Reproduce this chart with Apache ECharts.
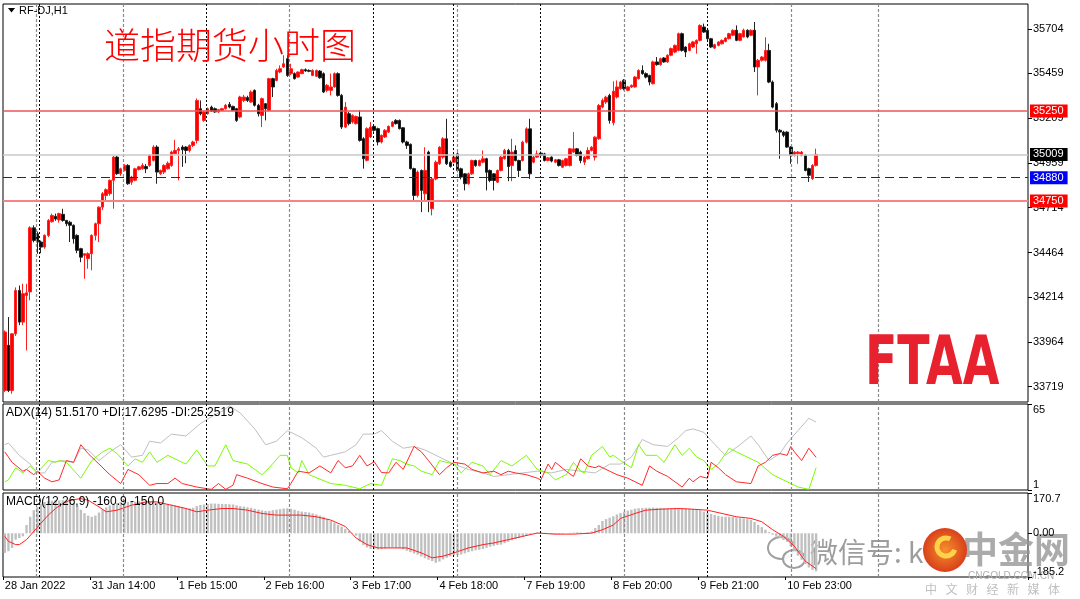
<!DOCTYPE html>
<html><head><meta charset="utf-8">
<script src="https://cdn.jsdelivr.net/npm/echarts@6/dist/echarts.min.js"></script>
<style>html,body{margin:0;padding:0;background:#fff}#c{width:1080px;height:599px}</style>
</head><body><div id="c"></div>
<script>
// ---------- DATA ----------
// H1 bars: [open, close, low, high]
const priceBars = [
[33697,34022,33688,34031],[33948,33697,33688,34105],[33697,34012,33679,34015],[34012,34253,34000,34270],
[34253,34077,34060,34280],[34077,34235,34060,34290],[34225,34240,33920,34290],[34245,34601,34198,34610],
[34601,34531,34520,34615],[34568,34522,34457,34580],[34522,34494,34460,34530],[34494,34559,34485,34565],
[34559,34642,34550,34650],[34635,34670,34630,34680],[34665,34650,34640,34680],[34645,34680,34630,34685],
[34676,34642,34635,34707],[34642,34624,34610,34645],[34632,34615,34522,34640],[34615,34540,34513,34620],
[34559,34476,34460,34565],[34485,34438,34410,34490],[34448,34457,34318,34460],[34430,34457,34374,34465],
[34457,34559,34365,34565],[34559,34624,34531,34630],[34624,34716,34522,34720],[34716,34791,34700,34800],
[34780,34813,34745,34820],[34791,34865,34780,34870],[34865,34994,34707,35000],[34994,34902,34895,35000],
[34902,34929,34890,34935],[34920,34948,34915,34955],[34948,34846,34840,34955],[34855,34883,34840,34890],
[34865,34929,34860,34935],[34925,34940,34920,34945],[34929,34948,34925,34960],[34942,34929,34905,34955],
[34948,35003,34940,35010],[34976,35050,34970,35060],[35050,34911,34846,35060],[34902,34920,34895,34925],
[34911,34948,34900,34955],[34929,34960,34925,34970],[34948,35022,34940,35030],[35013,35031,35010,35090],
[35031,35040,34865,35050],[35050,35035,34940,35060],[35050,35031,34960,35055],[35031,35059,35020,35065],
[35059,35078,35050,35085],[35087,35309,35070,35320],[35263,35235,35226,35309],[35198,35245,35190,35250],
[35235,35263,35230,35270],[35272,35250,35245,35280],[35263,35245,35240,35270],[35245,35258,35240,35262],
[35254,35263,35250,35268],[35263,35282,35258,35290],[35287,35272,35265,35300],[35276,35254,35250,35280],
[35263,35198,35190,35268],[35217,35328,35210,35335],[35309,35328,35300,35340],[35325,35309,35300,35335],
[35300,35356,35295,35365],[35365,35282,35275,35370],[35282,35235,35220,35290],[35226,35319,35161,35325],
[35291,35263,35198,35295],[35254,35430,35250,35435],[35430,35384,35328,35435],[35420,35476,35415,35485],
[35467,35485,35460,35504],[35495,35513,35490,35560],[35541,35448,35440,35560],[35458,35485,35450,35513],
[35458,35430,35425,35465],[35439,35467,35435,35470],[35458,35480,35455,35485],[35480,35473,35468,35487],
[35476,35471,35466,35482],[35448,35476,35444,35482],[35443,35476,35440,35480],[35472,35435,35430,35478],
[35458,35356,35350,35465],[35365,35393,35355,35400],[35365,35384,35337,35458],[35384,35458,35380,35465],
[35458,35337,35330,35465],[35337,35161,35150,35345],[35161,35272,35155,35300],[35235,35180,35170,35245],
[35189,35226,35180,35232],[35180,35220,35175,35225],[35217,35087,35080,35254],[35096,34985,34930,35105],
[34976,35152,34970,35160],[35106,35161,35100,35189],[35165,35143,35135,35175],[35152,35078,35059,35158],
[35078,35115,35070,35120],[35106,35143,35100,35150],[35133,35165,35128,35170],[35165,35189,35160,35195],
[35198,35180,35175,35205],[35198,35152,35148,35203],[35157,35078,35070,35160],[35078,35059,35040,35085],
[35065,34930,34925,35070],[34930,34781,34753,34935],[34781,34911,34770,34920],[34920,34809,34688,34925],
[34790,34920,34744,35049],[35022,34753,34688,35030],[34707,34873,34670,34880],[34873,34966,34865,34975],
[34957,35049,34950,35055],[34994,35096,34985,35105],[35096,34957,34950,35207],[34966,34942,34935,34975],
[34966,34994,34960,35012],[35012,34920,34910,35020],[34929,34883,34870,34935],[34901,34846,34809,34905],
[34846,34901,34840,34908],[34901,34975,34895,34980],[34975,34947,34940,34980],[34947,34975,34942,34980],
[34966,34985,34960,35031],[34985,34910,34809,34990],[34920,34864,34855,34925],[34901,34864,34809,34905],
[34855,34920,34850,34925],[34920,34994,34915,35000],[34985,35031,34980,35040],[35031,34942,34860,35040],
[34947,35022,34860,35096],[35031,34975,34970,35059],[34975,34920,34883,34980],[34975,35077,34970,35085],
[35077,35151,35070,35160],[35151,34901,34873,35207],[34966,34994,34960,35000],[34994,35012,34990,35031],
[35016,35003,34998,35025],[35012,34975,34970,35018],[34975,34990,34970,34995],[34994,34972,34965,34998],
[34966,34979,34960,34984],[34979,34947,34942,34984],[34938,34975,34933,34980],[34947,34985,34942,34990],
[34947,35040,34942,35045],[35022,35040,35018,35133],[35040,35003,34998,35045],[35022,34975,34960,35030],
[34966,34994,34950,35000],[34985,35031,34980,35049],[35031,35049,35025,35055],[34994,35105,34975,35110],
[35096,35281,35090,35290],[35272,35309,35265,35320],[35300,35327,35290,35335],[35337,35198,35180,35346],
[35185,35360,35170,35415],[35328,35384,35320,35420],[35374,35411,35368,35418],[35421,35374,35365,35428],
[35365,35384,35360,35390],[35384,35393,35378,35398],[35384,35439,35380,35445],[35430,35476,35425,35482],
[35476,35458,35452,35504],[35458,35439,35432,35465],[35448,35411,35393,35452],[35402,35523,35398,35530],
[35523,35508,35502,35550],[35508,35541,35502,35547],[35545,35523,35518,35550],[35523,35560,35518,35566],
[35560,35597,35555,35603],[35578,35615,35572,35620],[35587,35680,35582,35686],[35680,35587,35580,35686],
[35606,35578,35550,35610],[35587,35624,35582,35630],[35606,35634,35600,35640],[35624,35643,35569,35648],
[35643,35726,35637,35732],[35717,35689,35684,35736],[35699,35652,35645,35704],[35652,35606,35600,35657],
[35600,35619,35595,35624],[35615,35634,35610,35638],[35624,35643,35620,35648],[35637,35656,35632,35660],
[35652,35680,35648,35685],[35671,35699,35666,35704],[35699,35643,35638,35726],[35643,35680,35638,35685],
[35662,35699,35658,35708],[35699,35662,35655,35704],[35671,35699,35666,35704],[35699,35495,35467,35745],
[35495,35532,35337,35540],[35532,35550,35525,35556],[35532,35587,35525,35660],[35587,35411,35405,35624],
[35411,35272,35265,35420],[35291,35143,35130,35300],[35143,35133,34985,35150],[35133,35115,35105,35140],
[35133,35050,35045,35138],[35050,35004,34957,35055],[35004,35022,34998,35028],[35013,35022,34957,35028],
[35004,35022,34998,35028],[35004,34920,34915,35010],[34930,34893,34856,34935],[34874,34948,34868,34955],
[34948,35009,34942,35041]
];
const emptyRightBars = 58;
const xTickLabels = ['28 Jan 2022','31 Jan 14:00','1 Feb 15:00','2 Feb 16:00','3 Feb 17:00','4 Feb 18:00','7 Feb 19:00','8 Feb 20:00','9 Feb 21:00','10 Feb 23:00'];
const xTickStep = 24;
const priceTicks = [35704,35459,35209,34959,34714,34464,34214,33964,33719];
const priceMin = 33633, priceMax = 35845;
const levelValues = [35250, 35009, 34880, 34750];
const sepBlack = [9.4, 55.5, 101.7, 123.7, 147.8, 193.9];
const sepGrey = [8.6, 32.6, 78.5, 124.8, 171.0, 217.1, 241.1];

// ADX(14): [bar, value]
const adxLine = [[0,34.7],[1,36.0],[4,26.8],[7,20.3],[9,13.7],[11,13.7],[13,21.6],[16,22.9],[19,21.6],[21,32.1],[23,30.8],[26,22.9],[29,29.4],[32,34.7],[35,25.5],[38,26.8],[40,37.3],[43,36.0],[46,42.6],[50,41.2],[54,50.4],[58,57.0],[60,59.6],[62,63.6],[65,58.3],[69,46.5],[72,34.7],[75,37.3],[78,45.2],[82,39.9],[86,32.1],[88,25.5],[90,26.8],[94,29.4],[97,34.7],[99,42.6],[102,42.6],[104,45.2],[107,37.3],[110,32.1],[113,33.4],[116,30.8],[120,25.5],[124,20.3],[128,16.3],[132,13.7],[135,11.1],[139,12.4],[143,13.7],[147,15.0],[151,13.7],[155,16.3],[159,15.0],[163,13.7],[167,20.3],[170,20.3],[173,25.5],[176,38.6],[179,34.7],[183,33.4],[186,39.9],[188,45.2],[190,46.5],[193,43.9],[197,32.1],[199,26.8],[203,34.7],[206,41.2],[208,34.7],[211,22.9],[214,28.1],[216,36.0],[219,45.2],[222,54.4],[224,51.5]];
const plusDI = [[0,7.1],[1,8.5],[3,17.6],[5,13.7],[7,18.9],[8,16.3],[9,13.7],[12,22.9],[14,21.6],[15,22.9],[17,21.6],[21,9.8],[24,22.9],[27,29.4],[29,32.1],[31,28.1],[34,18.9],[36,24.2],[38,21.6],[40,29.4],[42,21.6],[45,26.8],[48,22.9],[50,20.3],[53,30.8],[56,18.9],[58,18.9],[61,34.7],[63,22.9],[67,20.3],[71,12.4],[73,17.6],[76,26.8],[78,26.8],[79,17.6],[81,13.7],[82,22.9],[84,12.4],[90,5.8],[94,4.5],[98,1.9],[101,5.8],[104,4.5],[107,24.2],[109,22.9],[111,20.3],[113,18.9],[115,15.0],[118,12.4],[120,22.9],[122,21.6],[124,20.3],[126,13.7],[129,21.6],[132,18.9],[134,12.4],[137,22.9],[140,18.9],[144,26.8],[147,16.3],[150,13.7],[152,8.5],[155,12.4],[157,21.6],[159,15.0],[160,13.7],[162,26.8],[165,33.4],[167,25.5],[168,26.8],[170,22.9],[173,17.6],[175,34.7],[177,26.8],[180,26.8],[182,21.6],[185,34.7],[187,26.8],[189,32.1],[191,25.5],[193,22.9],[195,16.3],[197,20.3],[200,32.1],[202,29.4],[205,25.5],[208,21.6],[212,12.4],[216,7.1],[219,3.2],[222,1.5],[224,17.6]];
const minusDI = [[0,29.4],[2,21.6],[5,15.0],[6,16.3],[8,12.4],[9,15.0],[11,9.8],[13,7.1],[15,8.5],[17,22.9],[19,21.6],[21,34.7],[23,28.1],[26,20.3],[29,12.4],[32,5.8],[34,16.3],[37,12.4],[40,4.5],[42,5.8],[45,5.8],[47,9.8],[49,5.8],[53,3.2],[56,1.9],[57,1.5],[59,5.8],[61,1.5],[63,4.5],[64,12.4],[67,9.8],[71,5.8],[74,3.2],[78,1.9],[79,5.8],[81,15.0],[84,13.7],[87,18.9],[90,13.7],[92,22.9],[94,17.6],[96,18.9],[98,26.8],[100,18.9],[102,22.0],[104,14.0],[106,13.7],[108,21.6],[110,16.3],[113,33.4],[115,29.4],[117,22.9],[120,12.4],[122,17.6],[124,21.6],[127,20.3],[129,16.3],[132,13.7],[135,15.0],[137,12.4],[139,15.0],[141,13.7],[144,12.4],[147,9.8],[148,8.5],[150,20.3],[151,16.3],[152,21.6],[155,15.0],[157,11.1],[159,24.2],[161,18.9],[163,17.6],[164,18.9],[167,15.0],[169,12.4],[172,9.8],[176,4.5],[178,18.9],[180,15.0],[183,11.1],[187,3.2],[189,9.8],[190,7.1],[192,11.1],[194,9.8],[195,21.6],[197,17.6],[199,12.4],[202,7.1],[206,5.8],[208,18.9],[210,21.6],[212,26.8],[214,28.1],[216,26.8],[217,33.4],[218,29.4],[220,22.9],[222,32.1],[224,25.3]];

// MACD(12,26,9)
const macdMain = [-83,-76,-62,-27,-20,-13,35,70,98,112,126,133,136,138,140,139,140,137,134,128,118,100,85,75,70,75,88,100,110,118,126,128,133,135,133,132,134,136,135,134,136,136,130,128,126,124,122,119,115,112,108,106,108,115,120,122,124,126,126,125,124,124,123,122,118,115,113,110,108,104,100,97,95,95,98,100,102,105,106,104,100,95,92,90,88,84,80,75,70,60,52,45,36,28,18,10,2,-10,-35,-50,-60,-66,-68,-69,-67,-64,-62,-62,-62,-63,-68,-74,-80,-86,-90,-98,-106,-112,-118,-125,-120,-111,-104,-98,-94,-92,-90,-85,-80,-76,-72,-70,-67,-62,-57,-53,-50,-48,-42,-36,-30,-24,-20,-15,-10,-5,1,3,3,2,-2,-4,-5,-3,-2,0,2,3,4,3,2,4,8,22,35,52,60,66,72,80,86,91,96,100,104,106,107,108,108,109,108,108,107,107,106,106,107,106,105,104,103,101,98,92,86,82,78,74,71,70,70,69,67,64,62,60,56,48,36,26,15,5,-6,-14,-20,-28,-36,-55,-76,-95,-112,-130,-145,-155,-160.9];
const macdSignal = [[0,-13],[1,-34],[3,-48],[4,-48],[6,-27],[8,8],[10,43],[12,77],[14,105],[16,126],[18,140],[21,147],[23,140],[26,112],[28,91],[31,98],[35,119],[39,133],[42,133],[46,119],[50,105],[53,91],[56,98],[60,105],[63,105],[67,98],[71,84],[75,77],[78,77],[82,77],[86,70],[90,56],[94,29],[97,-20],[100,-48],[103,-62],[107,-62],[111,-62],[115,-83],[118,-104],[121,-97],[124,-83],[128,-62],[132,-48],[135,-41],[139,-27],[143,-13],[147,1],[152,-3.5],[157,-3.5],[162,0.7],[165,15],[168,35],[170,63],[174,84],[177,98],[181,102],[186,105],[190,102],[194,98],[198,84],[202,70],[206,63],[209,49],[212,15],[215,-13],[218,-55],[221,-118],[224,-150]];
const adxMin = 1, adxMax = 65, macdMin = -185.2, macdMax = 170.7;
const adxLabelText = 'ADX(14) 51.5170 +DI:17.6295 -DI:25.2519';
const macdLabelText = 'MACD(12,26,9) -160.9 -150.0';

// ---------- CHART ----------
const FONT = '"Liberation Sans", Arial, sans-serif';
const totalSlots = priceBars.length + emptyRightBars;
const categories = Array.from({length: totalSlots}, (_, i) => String(i));
const tickShown = (i) => i % xTickStep === 0 && (i / xTickStep) < xTickLabels.length;

const gridDefs = [
  {left: 3, right: 52, top: 4, height: 398},
  {left: 3, right: 52, top: 404, height: 86},
  {left: 3, right: 52, top: 493, height: 84}
];
const grids = gridDefs.map(g => Object.assign({show: true, borderColor: '#000', borderWidth: 1, backgroundColor: '#fff'}, g));

const catAxes = [0,1,2].map(gi => ({
  type: 'category', gridIndex: gi, data: categories, boundaryGap: true,
  axisLine: {show: false, onZero: false}, splitLine: {show: false},
  axisTick: gi === 2 ? {show: true, interval: tickShown, length: 3, lineStyle: {color: '#000'}} : {show: false},
  axisLabel: gi === 2 ? {show: true, interval: tickShown, align: 'left', margin: 3, color: '#000', fontSize: 11, fontFamily: FONT,
     formatter: (v, i) => xTickLabels[i / xTickStep] || ''} : {show: false}
}));
const valAxes = [0,1,2].map(gi => ({
  type: 'value', gridIndex: gi, min: -0.5, max: totalSlots - 0.5, show: false, axisLine: {onZero: false}
}));

const yLabelBase = {color: '#000', fontSize: 11, fontFamily: FONT, margin: 5};
const yAxes = [
  {type: 'value', gridIndex: 0, position: 'right', min: priceMin, max: priceMax, scale: true,
   splitLine: {show: false}, axisLine: {show: false, onZero: false},
   axisTick: {show: true, customValues: priceTicks, length: 4, lineStyle: {color: '#000'}},
   axisLabel: Object.assign({customValues: priceTicks, formatter: v => String(v)}, yLabelBase)},
  {type: 'value', gridIndex: 1, position: 'right', min: adxMin, max: adxMax,
   splitLine: {show: false}, axisLine: {show: false, onZero: false},
   axisTick: {show: true, customValues: [adxMin, adxMax], length: 4, lineStyle: {color: '#000'}},
   axisLabel: Object.assign({customValues: [adxMin, adxMax], formatter: v => String(v),
     verticalAlignMinLabel: 'bottom', verticalAlignMaxLabel: 'top'}, yLabelBase)},
  {type: 'value', gridIndex: 2, position: 'right', min: macdMin, max: macdMax,
   splitLine: {show: false}, axisLine: {show: false, onZero: false},
   axisTick: {show: true, customValues: [macdMin, 0, macdMax], length: 4, lineStyle: {color: '#000'}},
   axisLabel: Object.assign({customValues: [macdMin, 0, macdMax], formatter: v => v === 0 ? '0.00' : v.toFixed(1),
     verticalAlignMinLabel: 'bottom', verticalAlignMaxLabel: 'top'}, yLabelBase)}
];

const sepMarkLine = {
  silent: true, symbol: 'none', animation: false, label: {show: false},
  data: sepBlack.map(v => ({xAxis: v, lineStyle: {color: '#000', width: 1, type: [2, 2]}}))
    .concat(sepGrey.map(v => ({xAxis: v, lineStyle: {color: '#8a8a8a', width: 1.2, type: [3, 2]}})))
};
const sepSeries = [0,1,2].map(gi => ({
  type: 'line', xAxisIndex: 3 + gi, yAxisIndex: gi, data: [], z: 1, silent: true, markLine: sepMarkLine
}));

const levelStyles = [
  {line: {color: '#ee5555', width: 1.5, type: 'solid'}, bg: '#ff0000'},
  {line: {color: '#c9c9c9', width: 1.5, type: 'solid'}, bg: '#000000'},
  {line: {color: '#1010ff', width: 1, type: [9, 5]}, bg: '#0000ff'},
  {line: {color: '#f68484', width: 2, type: 'solid'}, bg: '#ff0000'}
];

const option = {
  animation: false,
  backgroundColor: '#ffffff',
  grid: grids,
  xAxis: catAxes.concat(valAxes),
  yAxis: yAxes,
  series: [
    ...sepSeries,
    {type: 'candlestick', xAxisIndex: 0, yAxisIndex: 0, data: priceBars, barWidth: 3, z: 3,
     itemStyle: {color: '#ff0000', color0: '#000000', borderColor: '#ff2020', borderColor0: '#222222', borderWidth: 1},
     markLine: {silent: true, symbol: 'none', animation: false,
       label: {position: 'end', distance: 2, color: '#fff', fontSize: 11, fontFamily: FONT, padding: [1, 4, 1, 3],
               formatter: p => String(p.value)},
       data: levelValues.map((v, i) => ({yAxis: v, lineStyle: levelStyles[i].line, label: {backgroundColor: levelStyles[i].bg}}))}
    },
    {type: 'line', xAxisIndex: 1, yAxisIndex: 1, data: adxLine, showSymbol: false, z: 3, lineStyle: {color: '#c0c0c0', width: 1}},
    {type: 'line', xAxisIndex: 1, yAxisIndex: 1, data: plusDI, showSymbol: false, z: 3, lineStyle: {color: '#7cfc00', width: 1}},
    {type: 'line', xAxisIndex: 1, yAxisIndex: 1, data: minusDI, showSymbol: false, z: 3, lineStyle: {color: '#ff2a2a', width: 1}},
    {type: 'bar', xAxisIndex: 2, yAxisIndex: 2, data: macdMain, barWidth: 2.4, z: 3, itemStyle: {color: '#c0c0c0'}},
    {type: 'line', xAxisIndex: 2, yAxisIndex: 2, data: macdSignal, showSymbol: false, z: 4, lineStyle: {color: '#ff2020', width: 1}}
  ],
  graphic: [
    {type: 'polygon', shape: {points: [[8, 8], [15, 8], [11.5, 12.5]]}, style: {fill: '#000'}, z: 10},
    {type: 'text', x: 19, y: 11, z: 10, style: {text: 'RF-DJ,H1', font: '11px ' + FONT, fill: '#000', verticalAlign: 'middle'}},
    {type: 'text', x: 104, y: 45, z: 10, style: {text: '道指期货小时图', font: '300 36px "Noto Sans CJK SC"', fill: '#ff0000', verticalAlign: 'middle'}},
    {type: 'text', x: 6, y: 413, z: 10, style: {text: adxLabelText, font: '12px ' + FONT, fill: '#000', verticalAlign: 'middle'}},
    {type: 'text', x: 6, y: 502, z: 10, style: {text: macdLabelText, font: '12px ' + FONT, fill: '#000', verticalAlign: 'middle'}},
    {type: 'text', x: 865, y: 366, scaleX: 0.74, scaleY: 1.07, z: 10, style: {text: 'FTAA', font: 'bold 64px "DejaVu Sans"', fill: '#e8212f', verticalAlign: 'middle'}},
    // watermark
    {type: 'group', z: 20, children: [
      {type: 'ellipse', shape: {cx: 781, cy: 548, rx: 13, ry: 11}, style: {fill: 'rgba(255,255,255,0.85)', stroke: '#a0a0a0', lineWidth: 2}},
      {type: 'ellipse', shape: {cx: 794, cy: 559, rx: 11, ry: 9}, style: {fill: 'rgba(255,255,255,0.9)', stroke: '#a0a0a0', lineWidth: 2}},
      {type: 'text', x: 810, y: 552, style: {text: '微信号: k', font: '28px "Noto Sans CJK SC"', fill: 'rgba(140,140,140,0.85)', verticalAlign: 'middle'}},
      {type: 'text', x: 962, y: 549, style: {text: '中金网', font: 'bold 36px "Noto Sans CJK SC"', fill: 'rgba(150,150,150,0.8)', verticalAlign: 'middle'}},
      {type: 'circle', shape: {cx: 945, cy: 550, r: 22}, style: {fill: {type: 'radial', x: 0.5, y: 0.5, r: 0.5, colorStops: [{offset: 0, color: '#f5902a'}, {offset: 1, color: '#d9401b'}]}}},
      {type: 'arc', shape: {cx: 946, cy: 547, r: 9, startAngle: 0.3, endAngle: 5.2}, style: {stroke: '#ffd24a', lineWidth: 5, fill: null}},
      {type: 'text', x: 968, y: 576, style: {text: 'CNGOLD.COM.CN', font: '10px ' + FONT, fill: '#b0b0b0', verticalAlign: 'middle'}},
      ...['中','文','财','经','新','媒','体'].map((ch, i) => ({type: 'text', x: 925 + i * 20.5, y: 589,
        style: {text: ch, font: '12px "Noto Sans CJK SC"', fill: '#c0c0c0', verticalAlign: 'middle'}}))
    ]}
  ]
};
const chart = echarts.init(document.getElementById('c'), null, {renderer: 'canvas'});
chart.setOption(option);
</script></body></html>
